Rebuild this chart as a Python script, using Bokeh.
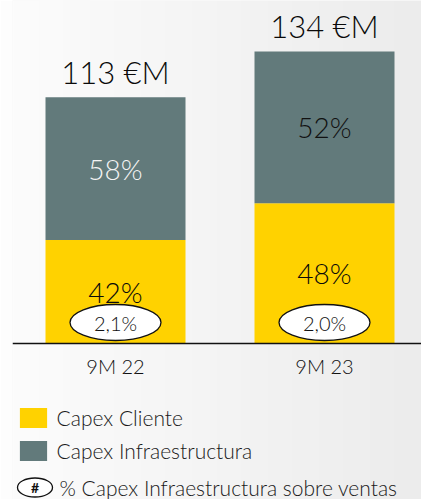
import numpy as np
from bokeh.plotting import figure
from bokeh.models import Range1d, Span, Legend, LegendItem, Label, ColumnDataSource
from bokeh.core.properties import value
from bokeh.embed import file_html
from bokeh.resources import INLINE

# ---------------- data ----------------
periods = ["9M 22", "9M 23"]
totals = [113, 134]                 # €M
pct_cliente = [42, 48]              # %
pct_infra = [58, 52]                # %
ratio_labels = ["2,1%", "2,0%"]     # % Capex Infraestructura sobre ventas
series_names = ["Capex Cliente", "Capex Infraestructura"]
ratio_legend = "% Capex Infraestructura sobre ventas"

# ---------------- layout constants ----------------
W, H = 421, 499
LEFT = 12       # frame starts here (baseline starts here)
YPX = 2.18      # pixels per €M
XPX = 209       # pixels per category step
BASE_PX = 343   # baseline distance from top of figure
X0_PX = 115 - LEFT  # first bar centre from left of frame
BAR_PX = 140
FW = W - LEFT

YELLOW = "#FFD200"
GRAY = "#627A7B"
FONT_NAME = "Lato Light, Lato"
FONT = value(FONT_NAME)

x_start = -X0_PX / XPX
x_end = x_start + FW / XPX
y_start = -(H - BASE_PX) / YPX
y_end = BASE_PX / YPX

idx = list(range(len(periods)))
cli = [t * c / 100 for t, c in zip(totals, pct_cliente)]
inf = [t * i / 100 for t, i in zip(totals, pct_infra)]

src = ColumnDataSource(dict(
    x=idx,
    cliente=cli,
    infra=inf,
    total=totals,
    total_lbl=[f"{t} €M" for t in totals],
    mid_cli=[c / 2 for c in cli],
    mid_inf=[c + i / 2 for c, i in zip(cli, inf)],
    cli_lbl=[f"{v}%" for v in pct_cliente],
    inf_lbl=[f"{v}%" for v in pct_infra],
    inf_col=["#f4f4f4", "#111111"],
    ell_y=[21 / YPX] * len(periods),
    ratio=ratio_labels,
    period=periods,
    zero=[0] * len(periods),
))

p = figure(width=W, height=H, output_backend="svg", toolbar_location=None,
           x_range=Range1d(x_start, x_end), y_range=Range1d(y_start, y_end),
           min_border=0, min_border_left=LEFT, min_border_right=0,
           min_border_top=0, min_border_bottom=0)
p.axis.visible = False
p.grid.visible = False
p.outline_line_color = None
p.background_fill_color = "#f5f5f5"
p.border_fill_color = "#fdfdfd"

# background gradient (left near white -> right light gray)
g = np.linspace(252, 236, 200).astype(np.uint32)
row = (255 << 24) | (g << 16) | (g << 8) | g
img = np.tile(row, (2, 1)).astype(np.uint32)
p.image_rgba(image=[img], x=x_start, y=y_start, dw=x_end - x_start, dh=y_end - y_start, level="image")

rs = p.vbar_stack(["cliente", "infra"], x="x", width=BAR_PX / XPX, color=[YELLOW, GRAY],
                  line_color=None, source=src)

p.add_layout(Span(location=0, dimension="width", line_color="#111111", line_width=1.5))

# totals above bars
p.text(x="x", y="total", text="total_lbl", source=src, y_offset=-25,
       text_align="center", text_baseline="middle",
       text_font=FONT, text_font_size="31px", text_color="#0a0a0a")
# segment percentages
p.text(x="x", y="mid_inf", text="inf_lbl", source=src, text_color="inf_col",
       text_align="center", text_baseline="middle", text_font=FONT, text_font_size="28px")
p.text(x="x", y="mid_cli", text="cli_lbl", source=src, text_color="#0a0a0a",
       text_align="center", text_baseline="middle", text_font=FONT, text_font_size="28px")
# ratio ellipses
p.ellipse(x="x", y="ell_y", width=91, height=36, width_units="screen", height_units="screen",
          fill_color="white", line_color="#111111", line_width=1.3, source=src)
p.text(x="x", y="ell_y", text="ratio", source=src, text_color="#111111",
       text_align="center", text_baseline="middle", text_font=FONT, text_font_size="20px")
# category labels
p.text(x="x", y="zero", text="period", source=src, y_offset=22, text_color="#111111",
       text_align="center", text_baseline="middle", text_font=FONT, text_font_size="20px")

legend = Legend(items=[LegendItem(label=series_names[0], renderers=[rs[0]]),
                       LegendItem(label=series_names[1], renderers=[rs[1]])],
                location=(15.6 - LEFT, 36), orientation="vertical",
                glyph_width=34, glyph_height=25, label_height=25, spacing=8,
                label_standoff=7, padding=0, margin=0,
                border_line_color=None, background_fill_alpha=0,
                label_text_font=FONT_NAME, label_text_font_size="21px",
                label_text_color="#1a1a1a")
p.add_layout(legend, "center")

# third legend row: ellipse with '#'
lx = x_start + (34.5 - LEFT) / XPX
ly = y_start + 12 / YPX
p.ellipse(x=[lx], y=[ly], width=35, height=19, width_units="screen", height_units="screen",
          fill_color="white", line_color="#111111", line_width=1.3)
p.text(x=[lx], y=[ly], text=["#"], text_align="center", text_baseline="middle",
       text_font=value("Lato"), text_font_size="14px", text_font_style="bold", text_color="#111111")
p.add_layout(Label(x=59 - LEFT, y=12, x_units="screen", y_units="screen", text=ratio_legend,
                   text_baseline="middle", text_font=FONT_NAME, text_font_size="21px",
                   text_color="#1a1a1a"))

open("out.html", "w").write(file_html(p, INLINE))
